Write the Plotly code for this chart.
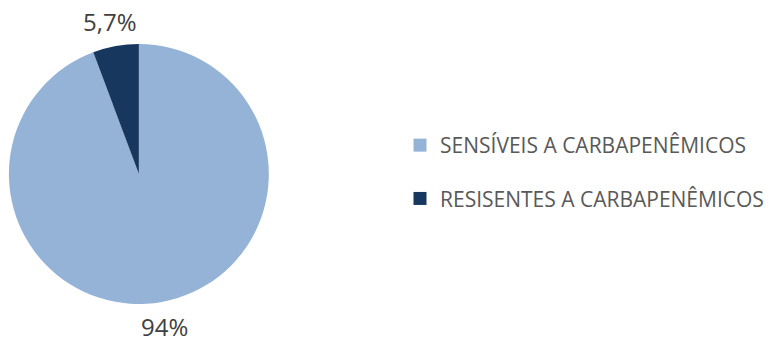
import math
import plotly.graph_objects as go

categories = ["SENSÍVEIS A CARBAPENÊMICOS", "RESISENTES A CARBAPENÊMICOS"]
values = [94.3, 5.7]
value_labels = ["94%", "5,7%"]
colors = ["#95B3D7", "#17375E"]

W, H = 769, 338
cx, cy, R = 140.5, 174, 131.5

fig = go.Figure()
fig.add_trace(go.Pie(
    labels=categories, values=values, sort=False, direction="clockwise", rotation=0,
    marker=dict(colors=colors, line=dict(width=0)),
    textinfo="none", hoverinfo="label+percent", showlegend=False,
    domain=dict(x=[(cx - R) / W, (cx + R) / W], y=[1 - (cy + R) / H, 1 - (cy - R) / H]),
))

# data labels outside slices
total = sum(values)
acc = 0
for v, lab in zip(values, value_labels):
    mid = (acc + v / 2) / total * 2 * math.pi
    acc += v
    r = 155
    px = cx - 1.5 + r * math.sin(mid)
    py = cy - r * math.cos(mid)
    fig.add_annotation(x=px / W, y=1 - py / H, xref="paper", yref="paper", text=lab,
                       showarrow=False, font=dict(size=24, color="#404040", family="Open Sans"),
                       xanchor="center", yanchor="middle", borderpad=0)

# legend entries
for i, (c, col) in enumerate(zip(categories, colors)):
    fig.add_trace(go.Scatter(x=[None], y=[None], mode="markers", name=c,
                             marker=dict(symbol="square", size=13, color=col),
                             legendgroup=str(i), showlegend=True))

fig.update_layout(
    width=W, height=H, margin=dict(l=0, r=0, t=0, b=0),
    paper_bgcolor="white", plot_bgcolor="white",
    xaxis=dict(visible=False), yaxis=dict(visible=False),
    legend=dict(x=405 / W, y=1 - 125 / H, xanchor="left", yanchor="top",
                font=dict(size=21, color="#595959", family="Open Sans"),
                tracegroupgap=23, itemwidth=30, bgcolor="rgba(0,0,0,0)"),
)
fig.write_html("out.html")
